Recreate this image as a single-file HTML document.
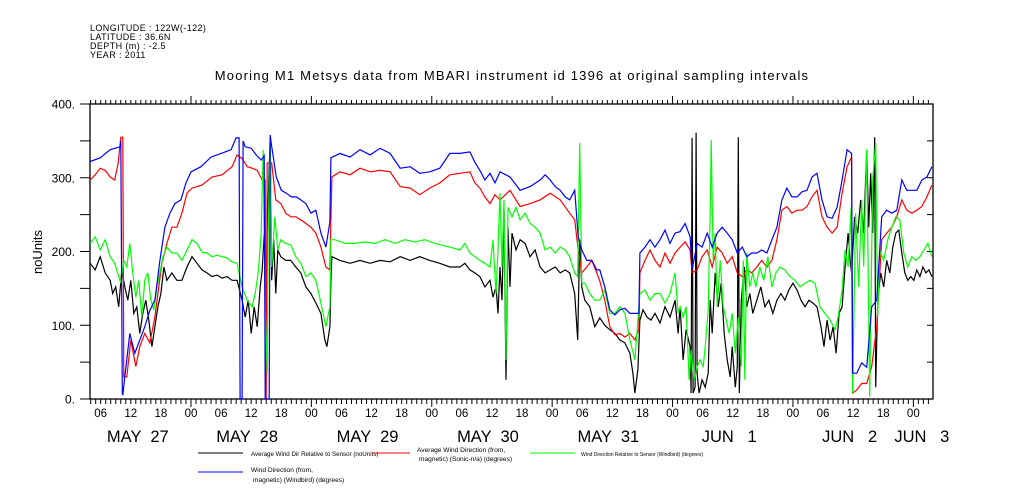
<!DOCTYPE html>
<html><head><meta charset="utf-8"><style>
html,body{margin:0;padding:0;background:#fff;}
svg{display:block;font-family:"Liberation Sans",sans-serif;}
</style></head><body>
<svg id="chart" width="1009" height="504" viewBox="0 0 1009 504" xmlns="http://www.w3.org/2000/svg">
<g font-size="9" fill="#000" letter-spacing="0.4">
<text x="90" y="31">LONGITUDE : 122W(-122)</text>
<text x="90" y="40">LATITUDE : 36.6N</text>
<text x="90" y="49">DEPTH (m) : -2.5</text>
<text x="90" y="58">YEAR : 2011</text>
</g>
<text x="512" y="80" text-anchor="middle" font-size="13" letter-spacing="1.2">Mooring M1 Metsys data from MBARI instrument id 1396 at original sampling intervals</text>
<text x="0" y="0" transform="translate(42,252) rotate(-90)" text-anchor="middle" font-size="13">noUnits</text>
<g id="axes"></g>
<g id="series"></g>
<g fill="#000">
<line x1="198" y1="453" x2="243" y2="453" stroke="#000"/>
<text x="251" y="456" font-size="6.2">Average Wind Dir Relative to Sensor (noUnits)</text>
<line x1="372" y1="453" x2="410" y2="453" stroke="#f00"/>
<text x="417" y="452" font-size="6.6">Average Wind Direction (from,</text>
<text x="419" y="461" font-size="6.6">magnetic) (Sonic-n/a) (degrees)</text>
<line x1="530" y1="453" x2="575" y2="453" stroke="#0f0"/>
<text x="581" y="456" font-size="5">Wind Direction Relative to Sensor (Windbird) (degrees)</text>
<line x1="198" y1="472" x2="243" y2="472" stroke="#00f"/>
<text x="251" y="472" font-size="6.6">Wind Direction (from,</text>
<text x="253" y="482" font-size="6.6">magnetic) (Windbird) (degrees)</text>
</g>
</svg>
<script>
// data: time in hours since 2011-05-27 00:00, values in degrees
const blackT=[3.9,4.9,5.9,6.9,7.9,8.4,9.0,9.6,10.2,10.8,11.4,12.0,12.6,13.2,13.8,14.4,15.0,15.6,16.2,16.8,17.4,18.0,18.6,19.2,20.2,21.2,22.2,23.2,24.2,25.2,26.2,27.2,28.2,29.2,30.2,31.2,32.2,33.2,34.2,34.8,35.4,36.0,36.6,37.2,37.8,38.2,38.6,39.0,39.4,39.8,40.1,40.5,40.9,41.3,41.9,42.9,43.9,44.9,45.9,46.9,47.9,48.9,49.9,50.7,51.1,51.7,51.9,52.1,53.7,55.7,57.7,59.7,61.7,63.7,65.7,67.7,69.6,71.6,73.6,75.6,77.6,78.6,79.6,80.6,81.6,82.6,83.6,84.2,84.8,85.2,85.6,86.0,86.4,86.8,87.2,87.6,88.0,88.8,89.6,90.6,91.6,92.6,93.6,94.6,95.6,96.6,97.6,98.6,99.5,100.5,101.1,101.5,101.9,102.5,103.5,104.5,105.5,106.5,107.5,108.5,109.5,110.5,111.5,112.1,112.5,113.1,113.5,114.1,114.9,115.7,116.5,117.5,118.5,119.5,120.5,121.1,121.5,122.1,122.7,123.5,123.7,123.9,124.1,124.5,124.7,124.9,125.3,125.9,126.5,127.1,127.5,127.9,128.5,129.1,129.7,130.3,130.9,131.5,131.9,132.5,132.9,133.1,133.3,133.7,134.3,134.8,135.4,136.0,136.8,137.6,138.4,139.2,140.0,140.8,141.6,142.4,143.2,144.0,144.8,145.6,146.4,147.2,148.0,148.8,149.6,150.2,150.8,151.4,152.0,152.6,153.2,153.8,154.4,155.0,155.4,155.7,156.3,156.9,157.5,158.1,158.7,159.1,159.5,159.9,160.3,160.5,160.9,161.5,162.1,162.7,163.3,163.9,164.5,165.1,165.7,166.3,166.9,167.5,168.1,168.7,169.3,169.9,170.5,171.1,171.7];
const blackV=[184,175,193,171,161,143,152,125,175,152,134,161,116,125,89,116,134,107,71,98,125,143,179,161,171,161,161,179,193,184,175,171,166,168,164,166,161,161,134,111,134,89,125,98,152,175,225,152,270,355,161,216,143,202,193,188,188,179,171,152,143,130,116,80,71,98,161,193,188,184,188,184,188,186,193,188,193,188,184,179,179,184,175,171,166,152,161,138,152,116,179,134,256,26,233,152,225,202,216,211,193,202,179,171,175,179,171,175,171,143,80,216,152,134,125,98,110,100,94,89,80,76,62,35,8,40,107,121,111,107,116,103,125,111,134,89,125,53,94,71,8,354,8,16,361,35,8,26,16,35,134,89,171,125,157,89,53,30,71,16,44,355,8,134,179,125,143,116,134,152,125,134,116,134,143,134,148,157,148,134,125,134,130,125,98,71,107,80,98,62,116,125,179,225,188,171,247,225,270,225,338,233,306,225,355,16,134,171,152,188,171,206,225,229,198,171,161,166,161,175,166,179,171,175,166];
const redT=[3.9,4.9,5.9,6.9,7.9,8.8,9.5,10.0,10.4,10.6,11.2,12.0,13.0,13.8,14.8,15.8,16.8,17.4,18.2,19.2,20.2,21.2,22.2,23.2,24.2,26.2,28.2,30.2,32.2,33.2,34.2,35.2,36.2,37.2,38.2,38.8,39.0,39.2,40.1,40.9,41.9,42.9,43.9,44.9,45.9,46.9,47.9,48.9,49.9,50.9,51.7,51.9,52.1,53.7,55.7,57.7,59.7,61.7,63.7,65.7,67.7,69.6,71.6,73.6,75.6,77.6,79.6,80.6,81.6,82.6,83.6,84.6,85.6,87.6,89.6,91.6,93.6,95.6,97.6,99.5,100.5,101.2,101.9,102.9,103.9,104.9,105.5,106.5,107.5,108.5,109.5,110.5,111.5,112.5,113.3,113.5,114.5,115.5,116.5,117.5,118.5,119.5,120.5,121.5,122.5,123.5,123.9,124.9,125.9,126.9,127.9,128.9,129.9,130.9,131.9,132.9,133.9,134.8,135.8,136.8,137.8,138.8,139.8,140.8,141.8,142.8,143.8,144.8,145.8,146.8,147.8,148.8,149.8,150.8,151.8,152.8,153.8,154.8,155.7,155.9,156.7,157.7,158.7,159.7,160.7,161.7,162.7,163.7,164.7,165.7,166.7,167.7,168.7,169.7,170.7,171.7];
const redV=[297,304,313,310,301,297,320,355,355,30,30,80,44,71,89,76,111,143,184,211,233,233,252,279,286,290,301,304,315,331,326,315,313,310,297,297,0,320,320,270,265,252,247,247,243,238,233,225,206,179,175,243,301,308,304,313,308,310,308,288,286,277,286,293,304,306,308,293,286,274,265,277,270,283,261,265,270,279,270,252,243,202,171,179,188,171,160,134,98,87,89,84,89,80,95,171,188,202,188,179,198,184,198,206,213,202,171,175,193,202,179,206,198,184,193,171,166,175,171,179,188,179,188,216,256,261,252,256,256,261,274,283,247,233,225,233,279,315,328,8,12,21,21,44,98,216,225,233,247,270,256,252,256,261,274,290];
const greenT=[3.9,4.9,5.9,6.9,7.9,8.8,9.4,10.0,10.6,11.2,11.8,12.4,13.0,13.6,14.2,14.8,15.4,16.0,16.6,17.2,17.8,18.4,19.2,20.2,21.2,22.2,23.2,24.2,25.2,26.2,27.2,28.2,29.2,30.2,31.2,32.2,33.2,34.2,35.2,36.2,36.8,37.4,38.0,38.4,38.8,39.2,39.4,39.8,40.1,40.7,41.3,41.9,42.9,43.9,44.9,45.9,46.9,47.9,48.9,49.9,50.9,51.7,51.9,52.7,54.7,56.7,58.7,60.7,62.7,64.7,66.6,68.6,70.6,72.6,75.6,77.6,78.6,79.6,80.6,81.6,82.6,83.6,84.2,84.8,85.2,85.6,86.0,86.4,86.8,87.2,88.0,88.8,89.6,90.6,91.6,92.6,93.6,94.6,95.6,96.6,97.6,98.6,99.5,100.5,101.1,101.5,101.9,102.5,103.5,104.5,105.5,106.5,107.5,108.5,109.5,110.5,111.5,112.5,113.5,114.5,115.5,116.5,117.5,118.5,119.5,120.5,121.1,121.5,122.1,122.7,123.3,123.7,124.3,124.9,125.5,126.1,126.5,127.1,127.5,127.7,128.1,128.5,128.9,129.5,130.1,130.7,131.3,131.9,132.5,133.1,133.7,134.1,134.4,134.8,135.4,136.0,136.6,137.4,138.2,139.0,139.8,140.6,141.4,142.4,143.4,144.4,145.4,146.4,147.4,148.4,149.4,150.4,151.4,152.4,153.0,153.8,154.4,155.0,155.6,155.9,156.5,157.1,157.7,158.1,158.7,159.3,159.9,160.5,160.9,161.3,162.1,162.9,163.7,164.5,165.3,166.1,166.9,167.7,168.5,169.3,170.1,170.9,171.7];
const greenV=[211,220,202,216,193,184,171,157,188,179,211,171,138,161,111,161,171,134,121,152,171,193,206,198,198,188,202,216,211,199,198,193,195,193,191,186,184,152,134,125,143,171,225,338,125,35,225,351,179,247,202,216,211,209,193,184,166,171,161,130,98,125,216,216,211,211,213,211,216,211,216,213,216,211,206,202,211,198,193,188,184,179,216,143,202,279,179,270,53,260,247,260,243,252,238,233,225,202,206,198,206,202,193,171,166,347,157,157,143,134,134,148,116,116,125,116,80,53,143,148,134,143,143,130,143,171,116,125,111,125,26,66,26,44,53,44,71,121,252,351,188,225,125,188,125,107,89,116,62,111,44,188,26,198,152,171,152,179,161,193,152,171,179,175,166,161,152,157,161,157,125,116,107,94,111,148,202,179,260,8,252,152,270,180,338,3,297,347,111,202,188,216,233,247,243,198,179,193,188,193,202,211,193];
const blueT=[3.9,5.9,7.9,9.9,10.0,10.3,10.4,10.8,11.8,12.8,13.8,14.8,15.8,16.8,17.8,18.8,19.8,20.8,22.0,23.0,24.0,26.0,28.0,30.0,32.0,33.0,33.6,33.8,34.2,34.4,34.8,36.0,37.0,38.0,38.6,38.8,39.6,39.8,40.0,41.0,42.0,43.0,44.0,45.0,45.9,46.9,47.9,48.9,49.9,50.9,51.7,51.9,53.7,55.7,57.7,59.7,61.7,63.7,65.7,67.7,69.6,71.6,73.6,75.6,77.6,79.6,80.6,81.6,82.6,83.6,84.6,85.6,87.6,89.6,91.6,93.6,94.6,95.6,96.6,97.6,98.6,99.5,100.5,101.2,101.9,102.9,103.9,104.9,105.5,106.5,107.5,108.5,109.5,110.5,111.5,112.5,113.3,113.5,114.5,115.5,116.5,117.5,118.5,119.5,120.5,121.5,122.5,123.5,123.9,124.9,125.9,126.9,127.9,128.9,129.9,130.9,131.9,132.9,133.9,134.8,135.8,136.8,137.8,138.8,139.8,140.8,141.8,142.8,143.8,144.8,145.8,146.8,147.8,148.8,149.8,150.8,151.8,152.8,153.8,154.8,155.7,155.9,156.7,157.7,158.7,159.7,160.7,161.7,162.7,163.7,164.7,165.7,166.7,167.7,168.7,169.7,170.7,171.7];
const blueV=[322,327,338,342,350,8,5,30,89,62,80,98,120,134,188,233,252,265,270,293,308,315,328,333,338,354,354,0,0,350,342,340,331,324,330,0,0,358,347,301,283,279,274,274,270,265,252,256,225,206,240,327,333,328,338,331,340,333,313,315,306,308,313,333,333,335,321,310,297,306,293,308,301,283,288,297,304,297,288,283,274,270,283,220,202,188,188,175,175,152,121,114,121,123,116,116,116,198,206,216,206,216,229,211,225,227,238,220,175,211,206,225,206,225,233,225,216,198,206,193,198,198,202,198,216,233,270,286,274,274,281,283,301,306,270,247,245,260,297,338,333,35,35,49,43,125,134,247,256,252,256,297,283,283,283,297,301,315];
const yTicks=[0,100,200,300,400];
const yLabels=["0.","100.","200.","300.","400."];
const hourTicks=[6,12,18,24,30,36,42,48,54,60,66,72,78,84,90,96,102,108,114,120,126,132,138,144,150,156,162,168];
const hourLabels=["06","12","18","00","06","12","18","00","06","12","18","00","06","12","18","00","06","12","18","00","06","12","18","00","06","12","18","00"];
const dayLabelHours=[13.4,35.2,59.2,83.2,107.2,131.3,155.3,169.7];
const dayLabels=["MAY  27","MAY  28","MAY  29","MAY  30","MAY  31","JUN   1","JUN   2","JUN   3"];

const NS="http://www.w3.org/2000/svg";
const X0=90,X1=933,Y0=399,Y1=104;
const T0=3.87,T1=171.92;
function xs(t){return X0+(t-T0)*(X1-X0)/(T1-T0);}
function ys(v){return Y0-v*(Y0-Y1)/400;}
function mk(tag,attrs,parent){const e=document.createElementNS(NS,tag);for(const k in attrs)e.setAttribute(k,attrs[k]);parent.appendChild(e);return e;}
const axes=document.getElementById('axes');
const frame=mk('rect',{x:X0,y:Y1,width:X1-X0,height:Y0-Y1,fill:'none',stroke:'#000','stroke-width':1.3},axes);


for(let v=0;v<=400;v+=50){
  const l=mk('line',{x1:X0-10,x2:X0,y1:ys(v),y2:ys(v),stroke:'#000'},axes);
  
  
  const r=mk('line',{x1:X1-6,x2:X1,y1:ys(v),y2:ys(v),stroke:'#000'},axes);
  
  
}
yTicks.forEach((v,i)=>{
  const t=mk('text',{x:75,y:ys(v)+4.5,'text-anchor':'end','font-size':12},axes);
  t.textContent=yLabels[i];
  
  
});
for(let h=4;h<=171;h++){
  const major=(h%24===0);
  const b=mk('line',{x1:xs(h),x2:xs(h),y1:Y0,y2:Y0+(major?8:5),stroke:'#000'},axes);
  
  
  const tp=mk('line',{x1:xs(h),x2:xs(h),y1:Y1,y2:Y1-(major?8:4),stroke:'#000'},axes);
  
  
}
hourTicks.forEach((h,i)=>{
  const t=mk('text',{x:xs(h),y:417,'text-anchor':'middle','font-size':11.5},axes);
  t.textContent=hourLabels[i];
  
  
});
dayLabelHours.forEach((h,i)=>{
  const t=mk('text',{x:xs(h),y:442,'text-anchor':'middle','font-size':16.5},axes);
  t.setAttribute('style','white-space:pre');
  t.textContent=dayLabels[i];
  
  
});
const sg=document.getElementById('series');
function drawSeries(T,V,color,name){
  const pts=T.map((t,i)=>xs(t).toFixed(1)+','+ys(V[i]).toFixed(1)).join(' ');
  const p=mk('polyline',{points:pts,fill:'none',stroke:color,'stroke-width':1.2,'stroke-linejoin':'miter'},sg);
  
  
}
drawSeries(blackT,blackV,'#000','series-avg-wind-dir-relative');
drawSeries(redT,redV,'#f00','series-avg-wind-direction-sonic');
drawSeries(greenT,greenV,'#0f0','series-wind-dir-relative-windbird');
drawSeries(blueT,blueV,'#00f','series-wind-direction-windbird');
</script>
</body></html>
